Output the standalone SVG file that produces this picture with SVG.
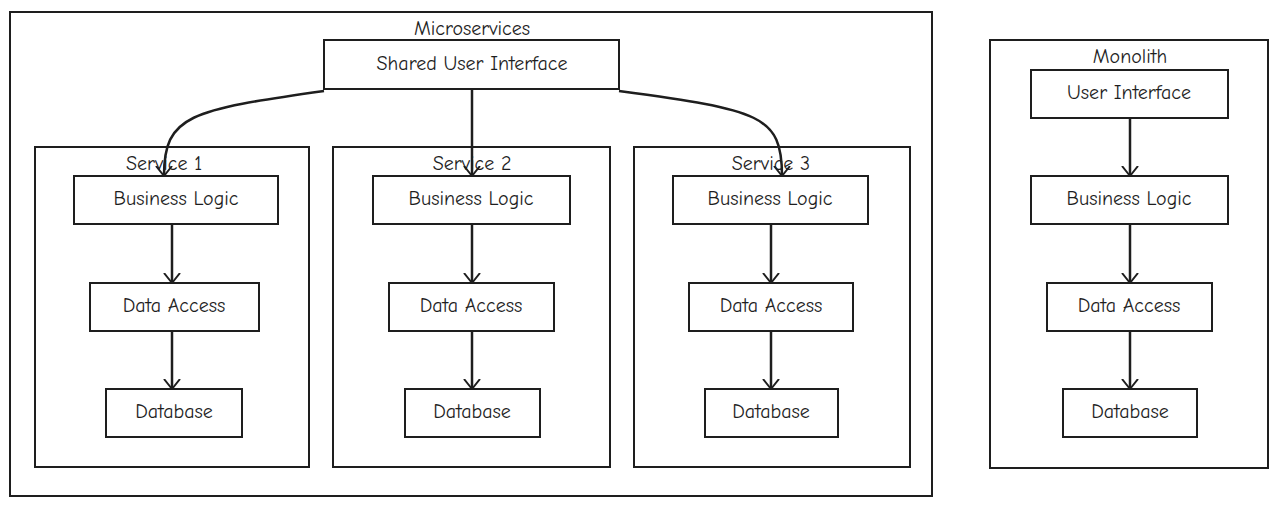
<svg xmlns="http://www.w3.org/2000/svg" width="1280" height="508" viewBox="0 0 1280 508">
<style>
.c{fill:none;stroke:#1e1e1e;stroke-width:2}
.n{fill:#fff;stroke:#1e1e1e;stroke-width:2}
text{font-family:"Comic Neue","Liberation Sans",sans-serif;font-size:20px;fill:#1e1e1e;text-anchor:middle;dominant-baseline:middle}
.l{stroke:#1e1e1e;stroke-width:2.5;fill:none}
</style>
<defs><marker id="a" markerWidth="20" markerHeight="20" refX="10" refY="10" orient="auto" markerUnits="userSpaceOnUse"><path d="M0 2 L10 10 L0 18" fill="none" stroke="#1e1e1e" stroke-width="2"/></marker></defs>
<rect class="c" x="10" y="12" width="922" height="484"/>
<text x="472" y="30">Microservices</text>
<rect class="c" x="35" y="147" width="274" height="320"/><text x="164" y="165">Service 1</text>
<rect class="c" x="333" y="147" width="277" height="320"/><text x="472" y="165">Service 2</text>
<rect class="c" x="634" y="147" width="276" height="320"/><text x="771" y="165">Service 3</text>
<rect class="c" x="990" y="40" width="278" height="428"/><text x="1130" y="58">Monolith</text>
<g id="conn">
<path class="l" d="M324 91 C190 110 164 115 164 176" marker-end="url(#a)"/>
<line class="l" x1="472" y1="90" x2="472" y2="176" marker-end="url(#a)"/>
<path class="l" d="M619 91 C760 110 782 115 782 176" marker-end="url(#a)"/>
<line class="l" x1="172" y1="224" x2="172" y2="283" marker-end="url(#a)"/>
<line class="l" x1="172" y1="331" x2="172" y2="389" marker-end="url(#a)"/>
<line class="l" x1="472" y1="224" x2="472" y2="283" marker-end="url(#a)"/>
<line class="l" x1="472" y1="331" x2="472" y2="389" marker-end="url(#a)"/>
<line class="l" x1="771" y1="224" x2="771" y2="283" marker-end="url(#a)"/>
<line class="l" x1="771" y1="331" x2="771" y2="389" marker-end="url(#a)"/>
<line class="l" x1="1130" y1="118" x2="1130" y2="176" marker-end="url(#a)"/>
<line class="l" x1="1130" y1="224" x2="1130" y2="283" marker-end="url(#a)"/>
<line class="l" x1="1130" y1="331" x2="1130" y2="389" marker-end="url(#a)"/>
</g>
<g id="sui"><rect class="n" x="324" y="40" width="295" height="49"/><text x="472" y="65">Shared User Interface</text></g>
<g id="bl1"><rect class="n" x="74" y="176" width="204" height="48"/><text x="176" y="200">Business Logic</text></g>
<g id="da1"><rect class="n" x="90" y="283" width="169" height="48"/><text x="174" y="307">Data Access</text></g>
<g id="db1"><rect class="n" x="106" y="389" width="136" height="48"/><text x="174" y="413">Database</text></g>
<g id="bl2"><rect class="n" x="373" y="176" width="197" height="48"/><text x="471" y="200">Business Logic</text></g>
<g id="da2"><rect class="n" x="389" y="283" width="165" height="48"/><text x="471" y="307">Data Access</text></g>
<g id="db2"><rect class="n" x="405" y="389" width="135" height="48"/><text x="472" y="413">Database</text></g>
<g id="bl3"><rect class="n" x="673" y="176" width="195" height="48"/><text x="770" y="200">Business Logic</text></g>
<g id="da3"><rect class="n" x="689" y="283" width="164" height="48"/><text x="771" y="307">Data Access</text></g>
<g id="db3"><rect class="n" x="705" y="389" width="133" height="48"/><text x="771" y="413">Database</text></g>
<g id="ui4"><rect class="n" x="1031" y="70" width="197" height="48"/><text x="1129" y="94">User Interface</text></g>
<g id="bl4"><rect class="n" x="1031" y="176" width="197" height="48"/><text x="1129" y="200">Business Logic</text></g>
<g id="da4"><rect class="n" x="1047" y="283" width="165" height="48"/><text x="1129" y="307">Data Access</text></g>
<g id="db4"><rect class="n" x="1063" y="389" width="134" height="48"/><text x="1130" y="413">Database</text></g>
</svg>
